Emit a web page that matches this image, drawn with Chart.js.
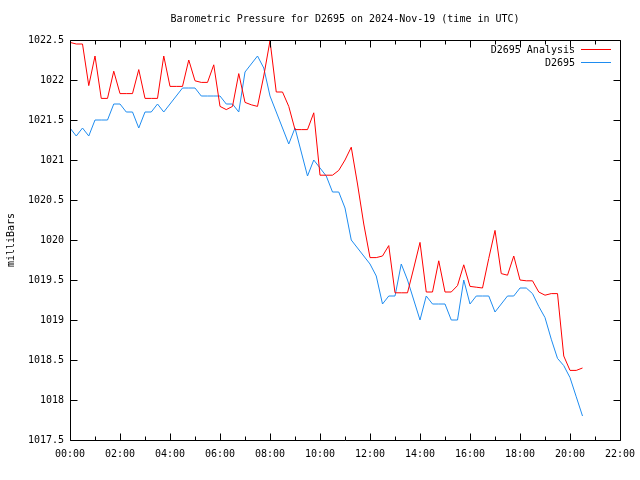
<!DOCTYPE html>
<html>
<head>
<meta charset="utf-8">
<script src="https://cdn.jsdelivr.net/npm/chart.js@4"></script>
<style>
  html, body { margin: 0; padding: 0; background: #ffffff; }
  #wrap { width: 640px; height: 480px; }
</style>
</head>
<body>
<div id="wrap"><canvas id="c" width="640" height="480"></canvas></div>
<script>
const chartTitle = "Barometric Pressure for D2695 on 2024-Nov-19 (time in UTC)";
const yAxisLabel = "milliBars";
const seriesNames = ["D2695 Analysis", "D2695"];

const times = [
  "00:00","00:15","00:30","00:45","01:00","01:15","01:30","01:45","02:00","02:15","02:30","02:45",
  "03:00","03:15","03:30","03:45","04:00","04:15","04:30","04:45","05:00","05:15","05:30","05:45",
  "06:00","06:15","06:30","06:45","07:00","07:15","07:30","07:45","08:00","08:15","08:30","08:45",
  "09:00","09:15","09:30","09:45","10:00","10:15","10:30","10:45","11:00","11:15","11:30","11:45",
  "12:00","12:15","12:30","12:45","13:00","13:15","13:30","13:45","14:00","14:15","14:30","14:45",
  "15:00","15:15","15:30","15:45","16:00","16:15","16:30","16:45","17:00","17:15","17:30","17:45",
  "18:00","18:15","18:30","18:45","19:00","19:15","19:30","19:45","20:00","20:15","20:30"
];

const analysis = [
  1022.47,1022.45,1022.45,1021.93,1022.30,1021.77,1021.77,1022.11,1021.83,1021.83,1021.83,1022.13,
  1021.77,1021.77,1021.77,1022.30,1021.92,1021.92,1021.92,1022.25,1021.99,1021.97,1021.97,1022.19,
  1021.67,1021.63,1021.67,1022.08,1021.72,1021.69,1021.67,1022.05,1022.49,1021.85,1021.85,1021.67,
  1021.38,1021.38,1021.38,1021.59,1020.81,1020.81,1020.81,1020.87,1021.00,1021.16,1020.70,1020.20,
  1019.78,1019.78,1019.80,1019.93,1019.34,1019.34,1019.34,1019.65,1019.97,1019.35,1019.35,1019.74,
  1019.35,1019.35,1019.43,1019.69,1019.42,1019.41,1019.40,1019.77,1020.12,1019.58,1019.56,1019.80,
  1019.50,1019.49,1019.49,1019.35,1019.31,1019.33,1019.33,1018.55,1018.37,1018.37,1018.40
];

const observed = [
  1021.4,1021.3,1021.4,1021.3,1021.5,1021.5,1021.5,1021.7,1021.7,1021.6,1021.6,1021.4,
  1021.6,1021.6,1021.7,1021.6,1021.7,1021.8,1021.9,1021.9,1021.9,1021.8,1021.8,1021.8,
  1021.8,1021.7,1021.7,1021.6,1022.1,1022.2,1022.3,1022.15,1021.8,1021.6,1021.4,1021.2,
  1021.4,1021.1,1020.8,1021.0,1020.9,1020.8,1020.6,1020.6,1020.4,1020.0,1019.9,1019.8,
  1019.7,1019.55,1019.2,1019.3,1019.3,1019.7,1019.5,1019.25,1019.0,1019.3,1019.2,1019.2,
  1019.2,1019.0,1019.0,1019.5,1019.2,1019.3,1019.3,1019.3,1019.1,1019.2,1019.3,1019.3,
  1019.4,1019.4,1019.33,1019.17,1019.03,1018.76,1018.52,1018.43,1018.28,1018.04,1017.8
];

const xTickLabels = ["00:00","02:00","04:00","06:00","08:00","10:00","12:00","14:00","16:00","18:00","20:00","22:00"];
const yTickLabels = ["1017.5","1018","1018.5","1019","1019.5","1020","1020.5","1021","1021.5","1022","1022.5"];

const colors = ["#ff0000", "#1e8cf0"];
const FONT = "DejaVu Sans Mono";

function toHours(t) { const p = t.split(":"); return Number(p[0]) + Number(p[1]) / 60; }
function pts(vals) { return vals.map((v, i) => ({ x: toHours(times[i]), y: v })); }

const xMin = toHours(xTickLabels[0]);
const xMax = toHours(xTickLabels[xTickLabels.length - 1]);
const yMin = Number(yTickLabels[0]);
const yMax = Number(yTickLabels[yTickLabels.length - 1]);

const decor = {
  id: "decor",
  afterDraw(chart) {
    const ctx = chart.ctx;
    const a = chart.chartArea;
    const xs = chart.scales.x, ys = chart.scales.y;
    ctx.save();
    ctx.strokeStyle = "#000";
    ctx.lineWidth = 1;
    const L = Math.round(a.left) + 0.5, R = Math.round(a.right) + 0.5;
    const T = Math.round(a.top) + 0.5, B = Math.round(a.bottom) + 0.5;
    ctx.beginPath();
    ctx.rect(L, T, R - L, B - T);
    ctx.stroke();
    ctx.beginPath();
    yTickLabels.forEach(s => {
      const py = Math.round(ys.getPixelForValue(Number(s))) + 0.5;
      ctx.moveTo(L, py); ctx.lineTo(L + 7, py);
      ctx.moveTo(R, py); ctx.lineTo(R - 7, py);
    });
    for (let h = xMin; h <= xMax; h += 1) {
      const px = Math.round(xs.getPixelForValue(h)) + 0.5;
      const len = (h % 2 === 0) ? 7 : 4;
      ctx.moveTo(px, B); ctx.lineTo(px, B - len);
      ctx.moveTo(px, T); ctx.lineTo(px, T + len);
    }
    ctx.stroke();

    ctx.fillStyle = "#000";
    ctx.font = "10px '" + FONT + "'";
    ctx.textAlign = "center";
    ctx.textBaseline = "middle";
    ctx.fillText(chartTitle, (a.left + a.right) / 2, 19);

    ctx.save();
    ctx.translate(11, (a.top + a.bottom) / 2);
    ctx.rotate(-Math.PI / 2);
    ctx.fillText(yAxisLabel, 0, 0);
    ctx.restore();

    ctx.textAlign = "right";
    seriesNames.forEach((name, i) => {
      const y = 50 + i * 13;
      ctx.fillStyle = "#000";
      ctx.fillText(name, 575, y);
      ctx.strokeStyle = colors[i];
      ctx.beginPath();
      ctx.moveTo(581, Math.round(y) - 0.5);
      ctx.lineTo(611, Math.round(y) - 0.5);
      ctx.stroke();
    });
    ctx.restore();
  }
};

new Chart(document.getElementById("c"), {
  type: "line",
  data: {
    datasets: [
      { label: seriesNames[0], data: pts(analysis), borderColor: colors[0], borderWidth: 1, pointRadius: 0, tension: 0, fill: false },
      { label: seriesNames[1], data: pts(observed), borderColor: colors[1], borderWidth: 1, pointRadius: 0, tension: 0, fill: false }
    ]
  },
  options: {
    responsive: false,
    animation: false,
    devicePixelRatio: 1,
    layout: { padding: { top: 40, right: 20, left: 0, bottom: 0 } },
    plugins: { legend: { display: false }, title: { display: false }, tooltip: { enabled: false } },
    scales: {
      x: {
        type: "linear",
        min: xMin, max: xMax,
        grid: { display: false, drawTicks: false },
        border: { display: false },
        afterFit(s) { s.height = 40; s.paddingLeft = 0; s.paddingRight = 0; },
        afterBuildTicks(s) { s.ticks = xTickLabels.map(t => ({ value: toHours(t) })); },
        ticks: {
          autoSkip: false, maxRotation: 0, padding: 8,
          color: "#000",
          font: { family: FONT, size: 10 },
          callback: (v) => { const i = xTickLabels.findIndex(t => toHours(t) === v); return i >= 0 ? xTickLabels[i] : ""; }
        }
      },
      y: {
        type: "linear",
        min: yMin, max: yMax,
        grid: { display: false, drawTicks: false },
        border: { display: false },
        afterFit(s) { s.width = 70; s.paddingTop = 0; s.paddingBottom = 0; },
        afterBuildTicks(s) { s.ticks = yTickLabels.map(t => ({ value: Number(t) })); },
        ticks: {
          autoSkip: false, padding: 6,
          color: "#000",
          font: { family: FONT, size: 10 },
          callback: (v) => { const i = yTickLabels.findIndex(t => Number(t) === v); return i >= 0 ? yTickLabels[i] : ""; }
        }
      }
    }
  },
  plugins: [decor]
});
</script>
</body>
</html>
